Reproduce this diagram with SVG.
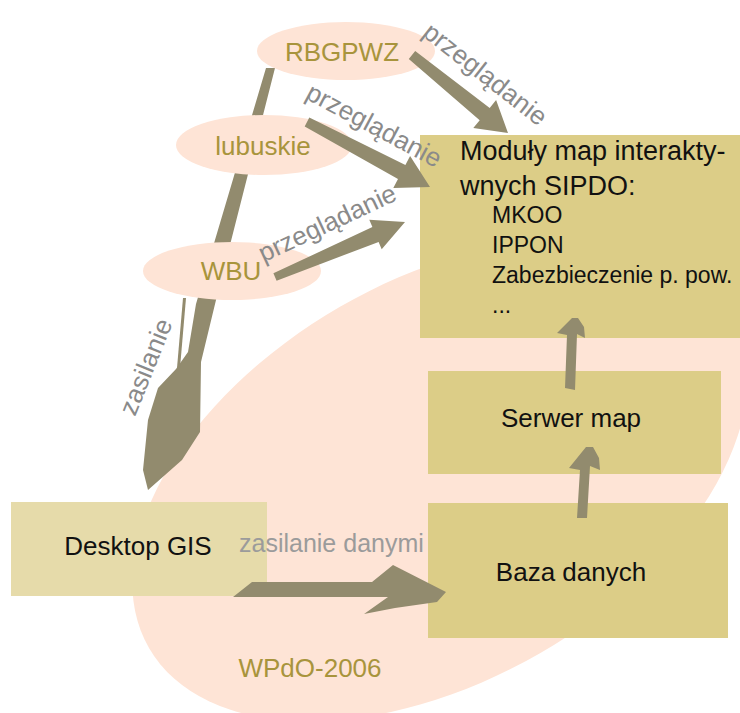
<svg xmlns="http://www.w3.org/2000/svg" width="740" height="713" viewBox="0 0 740 713">
<style>
text{font-family:"Liberation Sans",Arial,sans-serif}
.pink{fill:#fee4d6}
.box{fill:#dccd87}
.box2{fill:#e6dbaa}
.olive{fill:#a8943c;font-size:26px;text-anchor:middle}
.dark{fill:#111;font-size:26px;text-anchor:middle}
.mod{fill:#111;font-size:27px}
.sub{fill:#111;font-size:23px}
.lbl{fill:#8a8a8a;font-size:26px;text-anchor:middle}
.lbl2{fill:#9b9b9b;font-size:25px}
.arr{fill:#928b6e}
</style>
<g id="WPdO-2006">
<ellipse class="pink" cx="440" cy="480" rx="336" ry="200" transform="rotate(-30 440 480)"/>
<text class="olive" x="310" y="677">WPdO-2006</text>
</g>
<g id="connectors-back">
<polygon class="arr" points="266,68 275,68 216,300 201,362 200,432 182,460 148,490 143,470 148,420 158,388 176,369 188,352 196,304"/>
<polygon class="arr" points="183,298 186,298 180,368 177,368"/>
</g>
<g id="RBGPWZ">
<ellipse class="pink" cx="346" cy="51" rx="89" ry="29"/>
<text class="olive" x="342" y="61">RBGPWZ</text>
</g>
<g id="lubuskie">
<ellipse class="pink" cx="264" cy="145" rx="88" ry="30"/>
<text class="olive" x="263" y="155">lubuskie</text>
</g>
<g id="WBU">
<ellipse class="pink" cx="232" cy="271" rx="89" ry="29"/>
<text class="olive" x="231" y="280">WBU</text>
</g>
<g id="Moduly">
<rect class="box" x="420" y="135" width="320" height="203"/>
<text class="mod" x="460" y="160">Moduły map interakty-</text>
<text class="mod" x="460" y="195">wnych SIPDO:</text>
<text class="sub" x="492" y="223">MKOO</text>
<text class="sub" x="492" y="253">IPPON</text>
<text class="sub" x="492" y="283">Zabezbieczenie p. pow.</text>
<text class="sub" x="492" y="313">...</text>
</g>
<g id="Serwer">
<rect class="box" x="428" y="371" width="293" height="103"/>
<text class="dark" x="571" y="427">Serwer map</text>
</g>
<g id="Baza">
<rect class="box" x="428" y="503" width="300" height="135"/>
<text class="dark" x="571" y="581">Baza danych</text>
</g>
<g id="Desktop">
<rect class="box2" x="11" y="502" width="256" height="94"/>
<text class="dark" x="138" y="555">Desktop GIS</text>
</g>
<g id="connectors">
<polygon class="arr" points="415.2,51.1 489.7,107.9 496.1,100.1 508,133 473.3,128.1 479.7,120.3 408.8,58.9"/>
<polygon class="arr" points="309.3,117.6 405.4,164.9 410.1,156.1 430,187 393.3,187.9 398,179.1 304.7,126.4"/>
<polygon class="arr" points="273.4,273.3 372.4,227.1 369.3,219.8 405,222 381.7,249.2 378.6,241.9 276.6,280.7"/>
<polygon class="arr" points="233,597 252,582 372,582 393,565 446,592 437,602 395,608 364,614 388,597"/>
<polygon class="arr" points="577,518 580,470 569,468 586,447 593,447 599,458 600,470 590,466 587,518"/>
<polygon class="arr" points="565,388 567,335 557,333 572,318 578,318 584,327 585,338 577,334 575,390"/>
<text class="lbl" transform="translate(480,81) rotate(38)">przeglądanie</text>
<text class="lbl" transform="translate(370,133) rotate(28)">przeglądanie</text>
<text class="lbl" transform="translate(331,231) rotate(-25)">przeglądanie</text>
<text class="lbl" transform="translate(154,370) rotate(-68)">zasilanie</text>
<text class="lbl2" x="239" y="552">zasilanie danymi</text>
</g>
</svg>
